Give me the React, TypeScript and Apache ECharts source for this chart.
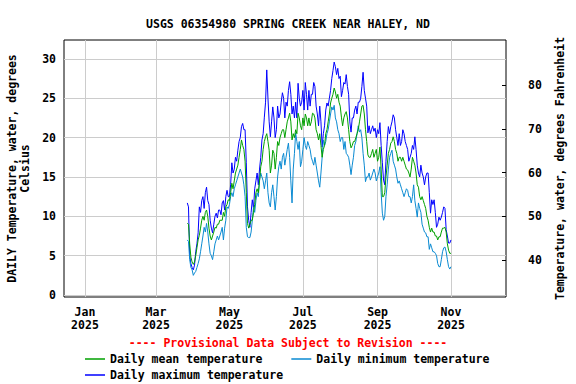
import React, { useEffect, useRef } from "react";
import * as echarts from "echarts";

const TITLE = "USGS 06354980 SPRING CREEK NEAR HALEY, ND";
const PROVISIONAL = "---- Provisional Data Subject to Revision ----";
const LEFT_NAME = "DAILY Temperature, water, degrees\nCelsius";
const RIGHT_NAME = "Temperature, water, degrees Fahrenheit";

// day-of-year offsets (Jan 1 2025 = 0) of the month tick labels
const monthTicks = [0, 59, 120, 181, 243, 304];
const monthLabels = ["Jan\n2025", "Mar\n2025", "May\n2025", "Jul\n2025", "Sep\n2025", "Nov\n2025"];
const celsiusTicks = [0, 5, 10, 15, 20, 25, 30];
const fahrenheitTicks = [40, 50, 60, 70, 80];

// first day of record: Mar 27 2025 (day offset 85)
const startDay = 85;

const maxTemp = [
  11.7, 11.2, 5.0, 4.0, 3.5, 3.2, 3.8, 5.5, 6.5, 7.9,
  11.2, 10.5, 12.0, 12.5, 11.0, 13.0, 13.7, 12.0, 11.5, 9.5,
  8.5, 7.9, 9.0, 10.0, 10.4, 9.8, 10.8, 10.8, 10.2, 11.7,
  12.0, 10.8, 12.5, 13.3, 12.5, 12.5, 14.0, 16.8, 15.5, 16.0,
  17.5, 17.0, 18.4, 19.5, 20.0, 21.4, 21.8, 21.0, 21.0, 16.8,
  11.2, 9.5, 8.6, 10.5, 12.1, 11.0, 13.5, 14.5, 15.5, 14.0,
  16.0, 17.5, 19.7, 20.5, 22.6, 24.5, 28.6, 25.0, 22.0, 20.1,
  22.0, 23.9, 22.5, 20.0, 21.0, 24.0, 22.5, 23.0, 24.5, 25.7,
  25.0, 22.5, 24.5, 24.0, 26.0, 27.1, 25.5, 23.0, 24.0, 22.5,
  24.5, 22.5, 26.9, 25.0, 24.0, 24.5, 26.0, 23.5, 27.0, 25.5,
  23.5, 26.0, 24.0, 25.5, 25.5, 27.0, 26.5, 24.0, 23.0, 21.5,
  24.0, 22.0, 18.8, 20.5, 21.5, 23.5, 24.4, 24.0, 25.0, 26.0,
  27.5, 28.5, 29.6, 29.0, 28.0, 28.8, 27.5, 27.8, 25.2, 26.0,
  27.0, 26.8, 28.0, 26.5, 25.5, 22.0, 20.7, 22.5, 22.5, 23.5,
  24.0, 23.0, 24.5, 24.5, 25.0, 26.5, 28.3, 26.0, 25.0, 24.0,
  20.6, 21.5, 20.5, 21.0, 21.5, 20.8, 21.2, 20.0, 21.0, 20.5,
  21.9, 19.0, 16.8, 14.6, 14.0, 17.0, 19.5, 21.4, 20.5, 21.4,
  22.0, 22.9, 22.5, 21.0, 20.0, 19.0, 20.5, 19.0, 19.5, 21.0,
  20.5, 19.5, 19.0, 18.5, 17.0, 17.5, 18.0, 19.0, 18.5, 20.1,
  18.5, 16.5, 15.5, 15.0, 16.5, 15.5, 15.0, 14.0, 15.0, 15.5,
  15.5, 13.0, 10.4, 12.1, 11.5, 12.1, 10.5, 8.6, 9.0, 9.9,
  9.5, 9.9, 10.5, 11.2, 11.0, 8.3, 7.5, 6.6, 6.6, 7.0,
];

const meanTemp = [
  9.1, 9.0, 6.5, 4.8, 4.2, 3.9, 4.2, 5.0, 6.0, 7.0,
  7.6, 8.5, 9.5, 10.0, 9.5, 10.5, 10.8, 10.0, 8.5, 7.5,
  7.0, 7.5, 8.0, 8.6, 8.5, 9.0, 9.0, 9.5, 9.5, 9.5,
  10.5, 10.0, 11.2, 11.5, 12.1, 12.0, 13.0, 14.2, 13.5, 14.5,
  15.5, 16.0, 16.5, 17.5, 18.5, 19.7, 19.0, 18.5, 17.0, 13.0,
  9.1, 8.5, 9.0, 9.5, 9.5, 10.5, 11.5, 13.0, 13.5, 13.0,
  14.5, 16.3, 17.0, 18.5, 19.5, 20.1, 20.5, 19.5, 18.4, 15.5,
  16.5, 18.4, 18.0, 16.0, 17.5, 19.5, 19.0, 20.0, 20.5, 21.0,
  21.0, 20.0, 21.0, 22.0, 22.5, 23.1, 22.0, 19.7, 20.5, 20.0,
  21.0, 20.5, 23.1, 22.5, 21.5, 21.0, 22.5, 21.5, 23.0, 22.5,
  21.5, 22.5, 21.5, 22.0, 23.1, 23.0, 22.5, 21.0, 20.5, 19.7,
  20.5, 19.0, 17.5, 18.5, 19.0, 20.5, 21.0, 22.0, 23.0, 24.4,
  25.0, 25.5, 26.3, 25.8, 25.0, 25.5, 24.5, 24.0, 22.6, 21.5,
  22.5, 23.0, 23.3, 22.5, 21.0, 19.5, 18.7, 19.0, 19.5, 19.5,
  20.0, 20.5, 21.0, 22.0, 23.0, 24.0, 24.1, 23.0, 21.0, 19.5,
  17.8, 17.5, 17.5, 18.0, 18.5, 17.5, 18.0, 18.5, 17.0, 17.5,
  18.8, 16.0, 12.5, 12.5, 13.0, 15.0, 16.5, 18.0, 18.5, 19.3,
  19.5, 20.1, 19.5, 18.5, 18.0, 17.0, 17.5, 17.5, 17.0, 17.5,
  17.0, 16.5, 16.0, 15.9, 15.5, 15.0, 16.0, 17.5, 17.0, 16.5,
  15.5, 14.0, 13.7, 12.5, 12.1, 12.5, 12.0, 11.5, 11.0, 10.0,
  9.5, 8.6, 8.0, 8.5, 8.0, 8.0, 7.5, 7.5, 7.0, 7.4,
  7.4, 8.0, 8.5, 8.5, 8.6, 8.0, 6.5, 5.7, 5.3, 5.3,
];

const minTemp = [
  7.0, 6.8, 4.5, 3.5, 3.2, 2.5, 2.8, 3.0, 3.5, 4.0,
  4.6, 5.5, 6.5, 7.5, 8.6, 8.0, 9.1, 8.0, 6.5, 5.3,
  5.0, 4.5, 5.5, 6.5, 7.0, 7.5, 7.0, 7.5, 8.0, 8.6,
  7.0, 8.5, 9.5, 11.2, 11.0, 11.5, 12.5, 13.0, 12.5, 13.5,
  14.0, 14.5, 15.0, 15.5, 16.0, 15.5, 15.0, 14.0, 12.5, 8.6,
  7.4, 7.3, 7.3, 8.0, 9.5, 11.2, 10.5, 12.0, 13.0, 12.5,
  14.6, 15.5, 15.0, 14.5, 13.5, 14.5, 15.5, 13.0, 11.7, 11.2,
  13.0, 14.0, 12.5, 10.8, 12.5, 15.0, 16.3, 17.0, 16.0, 17.5,
  18.0, 16.5, 17.5, 18.5, 19.3, 17.5, 14.5, 11.7, 16.0, 18.0,
  20.6, 19.5, 18.5, 19.5, 16.3, 17.0, 18.5, 20.0, 19.0, 18.5,
  19.5, 19.0, 18.5, 17.5, 17.0, 16.5, 17.5, 16.5, 15.5, 14.5,
  13.7, 15.5, 17.5, 19.7, 19.0, 19.5, 20.5, 21.0, 22.0, 23.0,
  23.9, 23.5, 24.1, 22.5, 22.0, 21.0, 20.5, 19.5, 20.0, 20.0,
  18.5, 19.5, 18.0, 17.8, 17.5, 16.5, 15.3, 16.5, 17.5, 19.0,
  19.5, 20.5, 21.5, 20.7, 21.0, 20.0, 18.0, 16.5, 14.4, 15.0,
  15.0, 15.5, 14.6, 15.0, 15.5, 16.0, 15.5, 14.5, 15.0, 15.5,
  16.3, 13.0, 10.4, 9.5, 10.0, 12.5, 14.0, 16.0, 17.5, 18.0,
  18.4, 17.0, 16.5, 16.0, 15.0, 14.2, 14.5, 14.0, 13.5, 13.0,
  12.5, 13.0, 13.5, 13.3, 12.5, 12.5, 11.7, 12.5, 14.0, 12.0,
  11.0, 9.9, 11.7, 11.0, 10.5, 9.0, 8.5, 8.0, 7.9, 7.4,
  7.4, 5.8, 6.5, 6.0, 5.5, 5.5, 5.3, 5.0, 4.0, 3.6,
  3.6, 4.5, 5.5, 6.0, 6.1, 5.5, 4.5, 3.6, 3.3, 3.6,
];

const seriesNames = ["Daily mean temperature", "Daily minimum temperature", "Daily maximum temperature"];
const seriesColors = ["#00a000", "#0a8ad2", "#0000ff"];

const FONT = '"DejaVu Sans Mono", monospace';
const FS = 11.5;

function toPoints(values: number[]) {
  return values.map((v, i) => [startDay + i, v]);
}

export default function App() {
  const ref = useRef<HTMLDivElement>(null);

  useEffect(() => {
    document.body.style.margin = "0";
    if (!ref.current) return;
    const chart = echarts.init(ref.current, null, { renderer: "svg" });
    const textBase = { fontFamily: FONT, fontSize: FS, fontWeight: "bold" as const, color: "#000" };
    const cToF = (c: number) => c * 1.8 + 32;
    const yMin = -0.25;
    const yMax = 32.4;

    chart.setOption({
      animation: false,
      backgroundColor: "#fff",
      title: {
        text: TITLE,
        left: "center",
        top: 13,
        textStyle: { ...textBase },
      },
      grid: {
        left: 64,
        right: 70,
        top: 40,
        bottom: 87,
        show: true,
        borderColor: "#000",
        borderWidth: 1,
        backgroundColor: "transparent",
        outerBoundsMode: "none",
        containLabel: false,
      },
      xAxis: {
        type: "value",
        min: -17.4,
        max: 349.7,
        axisLine: { show: false },
        axisTick: { show: false, customValues: monthTicks },
        axisLabel: {
          customValues: monthTicks,
          formatter: (v: number) => monthLabels[monthTicks.indexOf(Math.round(v))] ?? "",
          ...textBase,
          lineHeight: 13,
          margin: 8,
        },
        splitLine: { show: true, lineStyle: { color: "#cccccc", width: 1 } },
      },
      yAxis: [
        {
          type: "value",
          position: "left",
          min: yMin,
          max: yMax,
          name: LEFT_NAME,
          nameLocation: "middle",
          nameRotate: 90,
          nameGap: 33,
          nameTextStyle: { ...textBase, lineHeight: 13 },
          axisLine: { show: false },
          axisTick: { show: false, customValues: celsiusTicks },
          axisLabel: { customValues: celsiusTicks, ...textBase, margin: 8 },
          splitLine: { show: true, lineStyle: { color: "#cccccc", width: 1 } },
        },
        {
          type: "value",
          position: "right",
          min: cToF(yMin),
          max: cToF(yMax),
          name: RIGHT_NAME,
          nameLocation: "middle",
          nameRotate: 90,
          nameGap: 48,
          nameTextStyle: { ...textBase },
          axisLine: { show: false },
          axisTick: { show: true, inside: true, length: 4, customValues: fahrenheitTicks, lineStyle: { color: "#000" } },
          axisLabel: { customValues: fahrenheitTicks, ...textBase, margin: 22 },
          splitLine: { show: false },
        },
      ],
      legend: [
        {
          data: [seriesNames[0], seriesNames[1]],
          left: 80,
          top: 348,
          icon: "rect",
          itemWidth: 20,
          itemHeight: 1.5,
          itemGap: 29,
          textStyle: { ...textBase },
          selectedMode: false,
        },
        {
          data: [seriesNames[2]],
          left: 80,
          top: 364,
          icon: "rect",
          itemWidth: 20,
          itemHeight: 1.5,
          textStyle: { ...textBase },
          selectedMode: false,
        },
      ],
      graphic: [
        {
          type: "text",
          left: "center",
          top: 337,
          style: {
            text: PROVISIONAL,
            fill: "#ff0000",
            font: `bold ${FS}px ${FONT}`,
          },
        },
      ],
      series: [
        {
          name: seriesNames[2],
          type: "line",
          data: toPoints(maxTemp),
          showSymbol: false,
          color: seriesColors[2],
          lineStyle: { width: 1, color: seriesColors[2] },
          z: 2,
        },
        {
          name: seriesNames[1],
          type: "line",
          data: toPoints(minTemp),
          showSymbol: false,
          color: seriesColors[1],
          lineStyle: { width: 1, color: seriesColors[1] },
          z: 3,
        },
        {
          name: seriesNames[0],
          type: "line",
          data: toPoints(meanTemp),
          showSymbol: false,
          color: seriesColors[0],
          lineStyle: { width: 1, color: seriesColors[0] },
          z: 4,
        },
      ],
    });

    return () => chart.dispose();
  }, []);

  return <div ref={ref} style={{ width: 576, height: 384 }} />;
}
